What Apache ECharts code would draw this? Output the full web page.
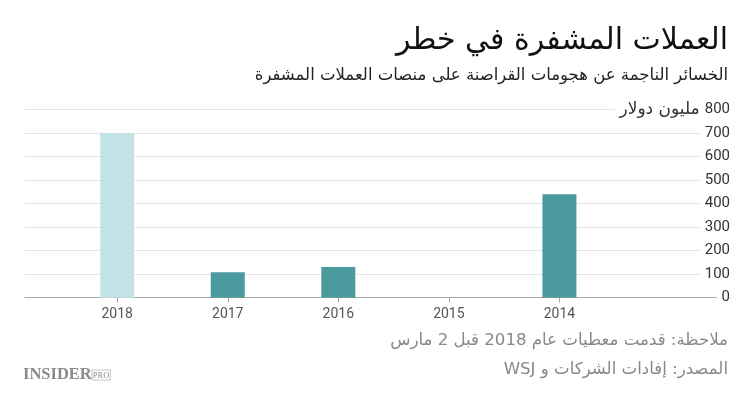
<!DOCTYPE html>
<html><head><meta charset="utf-8">
<script src="https://cdn.jsdelivr.net/npm/echarts@6/dist/echarts.min.js"></script>
<style>html,body{margin:0;padding:0;background:#fff}#c{width:750px;height:394px}</style>
</head><body><div id="c" dir="rtl"></div>
<script>
const years = [2018, 2017, 2016, 2015, 2014];
const losses = [700, 108, 131, 0, 440];
const highlightYear = 2018;
const yMin = 0, yMax = 800, yStep = 100;
const titleText = 'العملات المشفرة في خطر';
const subtitleText = 'الخسائر الناجمة عن هجومات القراصنة على منصات العملات المشفرة';
const unitText = 'مليون دولار';
const noteText = 'ملاحظة: قدمت معطيات عام 2018 قبل 2 مارس';
const sourceText = 'المصدر: إفادات الشركات و WSJ';
const logoMain = 'INSIDER', logoSub = 'PRO';

const arabicFont = '"DejaVu Sans", sans-serif';
const numFont = 'Roboto, "DejaVu Sans", sans-serif';
const TEAL = '#4b9a9d', LIGHT = '#c4e3e8';

const chart = echarts.init(document.getElementById('c'), null, {renderer: 'canvas'});
chart.setOption({
  animation: false,
  backgroundColor: '#fff',
  grid: {left: 25, right: 20, top: 109.5, bottom: 96.3, containLabel: false},
  xAxis: {
    type: 'value', inverse: true,
    min: years[years.length - 1] - 1.543, max: years[0] + 0.834,
    splitLine: {show: false},
    axisLine: {show: true, lineStyle: {color: '#aaa', width: 1.2}},
    axisTick: {show: true, customValues: years, length: 5, lineStyle: {color: '#aaa'}},
    axisLabel: {customValues: years, formatter: v => String(v), color: '#555', fontFamily: numFont, fontSize: 14, margin: 10}
  },
  yAxis: {
    type: 'value', position: 'right', min: yMin, max: yMax, interval: yStep,
    axisLine: {show: false}, axisTick: {show: false},
    splitLine: {lineStyle: {color: '#e4e4e4', width: 1.2}},
    axisLabel: {
      inside: true, margin: 0, color: '#333', fontFamily: numFont, fontSize: 15,
      backgroundColor: '#fff', padding: [0, 0, 0, 5],
      formatter: v => v === yMax ? ('{u|' + unitText + '}{n|' + v + '}') : String(v),
      rich: {
        u: {fontFamily: arabicFont, fontSize: 17, color: '#333', padding: [0, 5, 0, 0]},
        n: {fontFamily: numFont, fontSize: 15, color: '#333'}
      }
    }
  },
  series: [{
    type: 'bar', barWidth: 34,
    data: years.map((y, i) => ({value: [y, losses[i]], itemStyle: {color: y === highlightYear ? LIGHT : TEAL}}))
  }],
  graphic: [
    {type: 'text', x: 728, y: 41, style: {text: titleText, align: 'right', verticalAlign: 'middle', font: '30px ' + arabicFont, fill: '#111'}},
    {type: 'text', x: 728, y: 76, style: {text: subtitleText, align: 'right', verticalAlign: 'middle', font: '16.5px ' + arabicFont, fill: '#222'}},
    {type: 'text', x: 728, y: 341, style: {text: noteText, align: 'right', verticalAlign: 'middle', font: '16.6px ' + arabicFont, fill: '#888'}},
    {type: 'text', x: 728, y: 370, style: {text: sourceText, align: 'right', verticalAlign: 'middle', font: '16.6px ' + arabicFont, fill: '#888'}},
    {type: 'text', x: 23, y: 375, style: {
      text: '{a|' + logoMain + '}{b|' + logoSub + '}', align: 'left', verticalAlign: 'middle', fill: '#8a8a8a',
      rich: {
        a: {fontFamily: '"Liberation Serif", "DejaVu Serif", serif', fontWeight: 'bold', fontSize: 16.5, fill: '#8a8a8a'},
        b: {fontFamily: '"Liberation Serif", serif', fontSize: 8.5, fill: '#8a8a8a', borderColor: '#a0a0a0', borderWidth: 0.6, padding: [1, 1, 0, 1]}
      }
    }}
  ]
});
</script></body></html>
